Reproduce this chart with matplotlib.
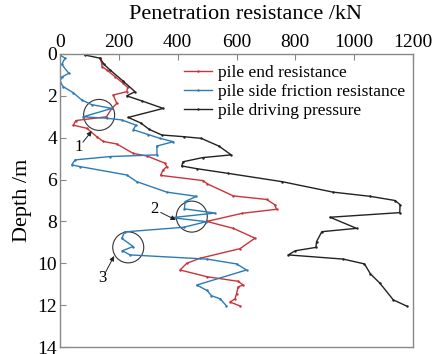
import matplotlib
matplotlib.use("Agg")
import matplotlib.pyplot as plt
from matplotlib.patches import Ellipse

plt.rcParams.update({
    "font.family": "serif",
    "font.serif": ["Liberation Serif", "DejaVu Serif"],
})

# ── data (depth m, resistance kN) ─────────────────────────────
end_depth = [0.2, 0.45, 0.6, 0.76, 1.08, 1.4, 1.6, 1.8, 1.96, 2.36, 2.6, 3.0,
             3.18, 3.4, 3.55, 3.95, 4.18, 4.3, 4.75, 4.87, 5.22, 5.38, 5.55,
             5.8, 6.05, 6.2, 6.78, 6.95, 7.2, 7.42, 7.61, 8.0, 8.33, 8.8,
             9.3, 9.76, 10.0, 10.32, 10.64, 10.86, 11.04, 11.12, 11.45, 11.7,
             11.85, 12.04]
end_res = [136, 142, 143, 159, 187, 215, 230, 227, 181, 193, 176, 158,
           54, 45, 91, 125, 147, 193, 249, 295, 357, 363, 350,
           342, 487, 500, 589, 702, 730, 736, 620, 499, 589, 663,
           612, 476, 431, 408, 499, 605, 623, 606, 600, 595,
           578, 612]

side_depth = [0.05, 0.2, 0.5, 0.92, 1.1, 1.32, 1.56, 1.85, 2.2, 2.42, 2.6,
              3.0, 3.07, 3.15, 3.4, 3.62, 3.85, 4.03, 4.19, 4.4, 4.82, 4.9,
              5.06, 5.3, 5.38, 5.78, 6.1, 6.6, 6.8, 7.05, 7.4, 7.6, 7.82,
              8.01, 8.28, 8.5, 8.81, 9.2, 9.4, 9.6, 9.8, 10.03, 10.32, 11.04,
              11.3, 11.55, 11.7, 12.04]
side_res = [0, 17, 6, 30, 6, 0, 11, 45, 74, 108, 176,
            79, 159, 210, 258, 249, 300, 340, 385, 329, 330, 170,
            51, 40, 68, 227, 261, 363, 464, 425, 423, 527, 380,
            498, 420, 220, 210, 249, 212, 238, 500, 600, 634, 465,
            500, 515, 545, 566]

drive_depth = [0.05, 0.2, 0.5, 0.76, 1.3, 1.8, 2.0, 2.25, 2.6, 3.03, 3.3,
               3.6, 3.87, 3.95, 4.03, 4.4, 4.82, 4.95, 5.15, 5.35, 5.48,
               5.7, 6.1, 6.6, 6.8, 7.0, 7.2, 7.58, 7.8, 8.33, 8.49, 8.97,
               9.24, 9.4, 9.6, 9.8, 10.03, 10.5, 10.96, 11.75, 12.04]
drive_res = [85, 136, 150, 170, 215, 255, 227, 280, 351, 232, 275,
             303, 346, 420, 480, 540, 582, 485, 418, 414, 465,
             570, 755, 928, 1054, 1139, 1156, 1155, 918, 1008, 890, 872,
             870, 800, 776, 963, 1035, 1055, 1088, 1133, 1178]

# circled spots and their labels: (x, depth)
circles = [(133, 2.91), (448, 7.77), (232, 9.24)]
labels = ["1", "2", "3"]
label_pos = [(65, 4.44), (320, 7.42), (144, 10.72)]
arrow_tip = [(108, 3.68), (394, 7.93), (184, 9.65)]

RED = "#c9343b"
BLUE = "#2b7bb6"
BLACK = "#222222"

fig = plt.figure(figsize=(4.36, 3.54), dpi=100)
ax = fig.add_axes([60 / 436, 7 / 354, 353 / 436, 293 / 354])

kw = dict(lw=1.0, marker=".", ms=1.5)
ax.plot(end_res, end_depth, color=RED, label="pile end resistance", **kw)
ax.plot(side_res, side_depth, color=BLUE,
        label="pile side friction resistance", **kw)
ax.plot(drive_res, drive_depth, color=BLACK, label="pile driving pressure", **kw)

ax.set_xlim(0, 1200)
ax.set_ylim(14, 0)
ax.set_xticks(range(0, 1201, 200))
ax.set_yticks(range(0, 15, 2))

# circles: radius ~15 px on screen
kx = 1200 / 353
ky = 14 / 293
for (cx, cy) in circles:
    ax.add_patch(Ellipse((cx, cy), 2 * 15.5 * kx, 2 * 15.5 * ky,
                         fill=False, ec="#333333", lw=0.8))
for t, (tx, ty), (ax_, ay) in zip(labels, label_pos, arrow_tip):
    ax.text(tx, ty, t, ha="center", va="center", fontsize=12)
    # start the arrow a little off the digit
    sx = tx + (ax_ - tx) * 0.3
    sy = ty + (ay - ty) * 0.3
    ax.annotate("", xy=(ax_, ay), xytext=(sx, sy),
                arrowprops=dict(arrowstyle="-|>", lw=0.7, color="#222222",
                                mutation_scale=7, shrinkA=0, shrinkB=0))

ax.xaxis.tick_top()
ax.xaxis.set_label_position("top")
ax.set_xlabel("Penetration resistance /kN", fontsize=16, labelpad=2)
ax.xaxis.set_label_coords(0.525, 1.12)
ax.set_ylabel("Depth /m", fontsize=16, labelpad=4)
ax.tick_params(direction="in", length=4, width=0.8, color="#888888",
               labelsize=14, pad=2)
for s in ax.spines.values():
    s.set_color("#888888")
    s.set_linewidth(1.0)

ax.legend(loc="upper left", bbox_to_anchor=(0.352, 0.962), frameon=False,
          fontsize=12.5, borderpad=0, borderaxespad=0, labelspacing=0.17,
          handlelength=1.6, handletextpad=0.35, numpoints=1)

fig.savefig("out.png", dpi=100, facecolor="white")
